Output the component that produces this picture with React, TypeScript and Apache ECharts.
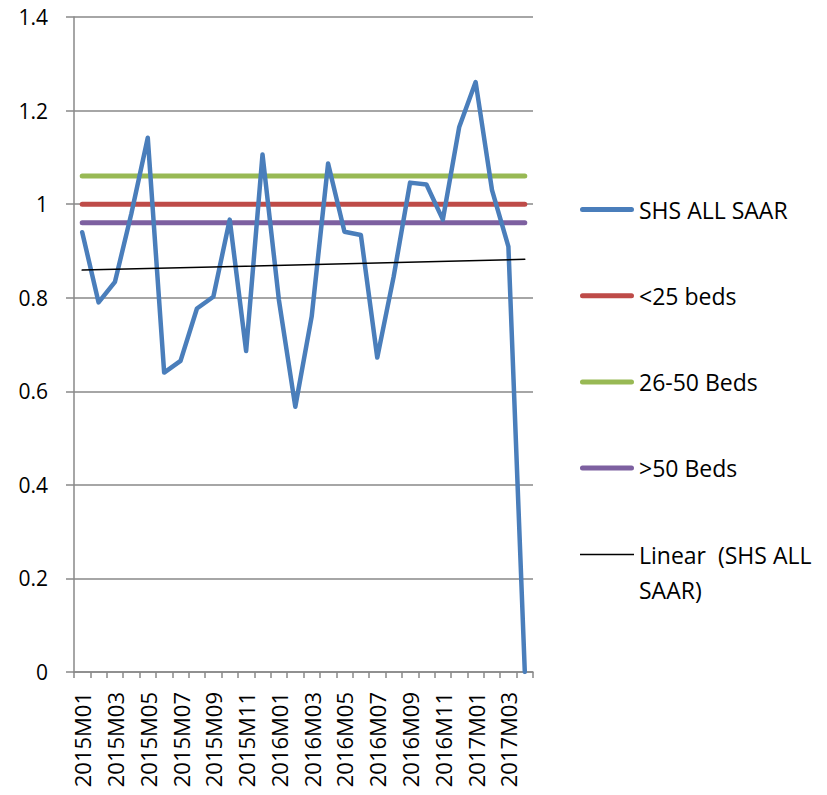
import React, { useEffect, useRef } from "react";
import * as echarts from "echarts";

const categories = [
  "2015M01","2015M02","2015M03","2015M04","2015M05","2015M06","2015M07","2015M08","2015M09","2015M10","2015M11","2015M12",
  "2016M01","2016M02","2016M03","2016M04","2016M05","2016M06","2016M07","2016M08","2016M09","2016M10","2016M11","2016M12",
  "2017M01","2017M02","2017M03","2017M04",
];

const shsAllSaar = [
  0.94, 0.79, 0.834, 0.98, 1.142, 0.64, 0.665, 0.777, 0.802, 0.967, 0.686, 1.106,
  0.795, 0.567, 0.76, 1.087, 0.941, 0.934, 0.672, 0.845, 1.046, 1.042, 0.967, 1.165,
  1.261, 1.03, 0.909, 0,
];

const bedsUnder25 = 1.0;
const beds26to50 = 1.06;
const bedsOver50 = 0.96;
const trendStartEnd = [0.859, 0.882];

const yTicks = { min: 0, max: 1.4, interval: 0.2 };

const FONT = "'Open Sans', sans-serif";
const GRAY = "#898989";
const BAR_ICON =
  "path://M2.5,0 L51.5,0 A2.5,2.5 0 0 1 51.5,5 L2.5,5 A2.5,2.5 0 0 1 2.5,0 Z";
const THIN_ICON = "path://M0,0 L54,0 L54,1.5 L0,1.5 Z";

export default function App() {
  const ref = useRef<HTMLDivElement>(null);
  useEffect(() => {
    if (!ref.current) return;
    const chart = echarts.init(ref.current, undefined, { renderer: "svg" });
    const last = categories.length - 1;
    const flat = (v: number) => [[0, v], [last, v]];
    const lineSeries = (name: string, data: any, color: string, width: number) => ({
      name,
      type: "line",
      data,
      symbol: "none",
      showSymbol: false,
      lineStyle: { color, width, cap: "round", join: "round" },
      itemStyle: { color },
      z: 2,
    });
    const legendText = { fontSize: 23, color: "#000", fontFamily: FONT, lineHeight: 35 };
    chart.setOption({
      animation: false,
      textStyle: { fontFamily: FONT },
      grid: { left: 74, right: 294, top: 17, bottom: 123, containLabel: false },
      xAxis: {
        type: "category",
        data: categories,
        boundaryGap: true,
        axisLine: { show: true, lineStyle: { color: GRAY, width: 1.5 } },
        axisTick: { show: true, interval: 0, length: 6, lineStyle: { color: GRAY, width: 1.5 } },
        axisLabel: {
          interval: 1,
          rotate: 90,
          margin: 20,
          color: "#000",
          fontSize: 22,
          fontFamily: FONT,
        },
        splitLine: { show: false },
      },
      yAxis: {
        type: "value",
        min: yTicks.min,
        max: yTicks.max,
        interval: yTicks.interval,
        axisLine: { show: true, lineStyle: { color: GRAY, width: 1.5 } },
        axisTick: { show: true, length: 8, lineStyle: { color: GRAY, width: 1.5 } },
        axisLabel: { color: "#000", fontSize: 21, margin: 26, fontFamily: FONT },
        splitLine: { show: true, lineStyle: { color: GRAY, width: 1.5 } },
      },
      legend: [
        {
          orient: "vertical",
          left: 580,
          top: 192,
          padding: 0,
          itemWidth: 54,
          itemHeight: 14,
          itemGap: 51.2,
          textStyle: legendText,
          data: [
            { name: "SHS ALL SAAR", icon: BAR_ICON },
            { name: "<25 beds", icon: BAR_ICON },
            { name: "26-50 Beds", icon: BAR_ICON },
            { name: ">50 Beds", icon: BAR_ICON },
          ],
        },
        {
          orient: "vertical",
          left: 580,
          top: 502,
          padding: 0,
          itemWidth: 54,
          itemHeight: 14,
          textStyle: legendText,
          data: [{ name: "Linear  (SHS ALL SAAR)", icon: THIN_ICON }],
          formatter: () => "\nLinear  (SHS ALL\nSAAR)",
        },
      ],
      series: [
        { ...lineSeries("SHS ALL SAAR", shsAllSaar, "#4A7EBB", 4.5), z: 3 },
        lineSeries("<25 beds", flat(bedsUnder25), "#BE4B48", 5),
        lineSeries("26-50 Beds", flat(beds26to50), "#98B954", 5),
        lineSeries(">50 Beds", flat(bedsOver50), "#7D60A0", 5),
        {
          ...lineSeries("Linear  (SHS ALL SAAR)", [[0, trendStartEnd[0]], [last, trendStartEnd[1]]], "#000000", 1.5),
          z: 4,
        },
      ],
    });
    return () => chart.dispose();
  }, []);
  return (
    <div
      ref={ref}
      style={{ position: "fixed", left: 0, top: 0, width: 827, height: 795, background: "#fff" }}
    />
  );
}
